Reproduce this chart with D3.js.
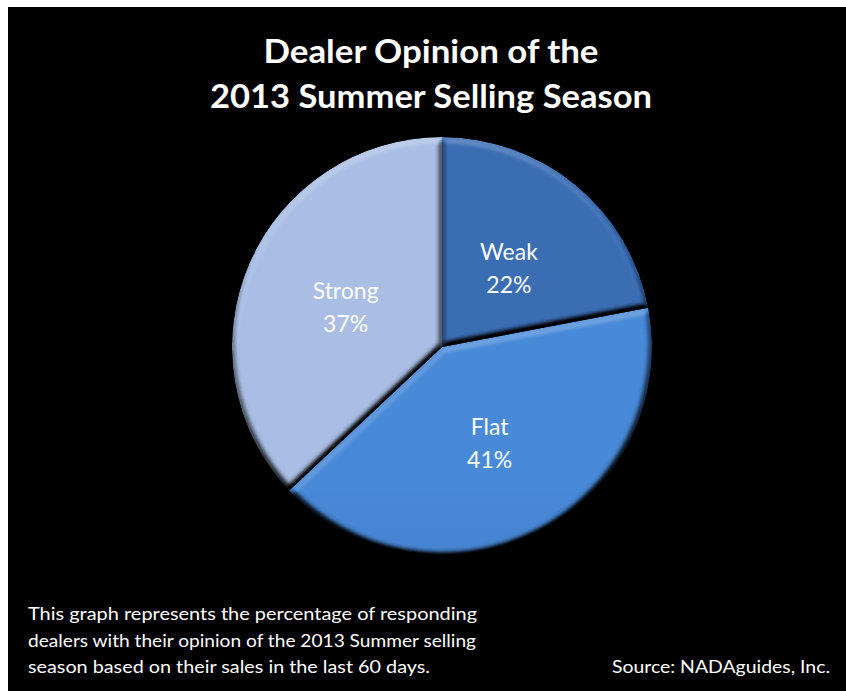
<!DOCTYPE html>
<html>
<head>
<meta charset="utf-8">
<script src="https://cdn.jsdelivr.net/npm/d3@7"></script>
<style>
  html, body { margin: 0; padding: 0; background: #ffffff; }
  svg { display: block; }
</style>
</head>
<body>
<script>
// Survey results: share of dealers per opinion
const categories = ["Weak", "Flat", "Strong"];
const shares = [22, 41, 37];

const titleLines = ["Dealer Opinion of the", "2013 Summer Selling Season"];
const noteLines = [
  "This graph represents the percentage of responding",
  "dealers with their opinion of the 2013  Summer selling",
  "season based on their sales in the last 60 days."
];
const sourceText = "Source: NADAguides, Inc.";

const W = 846, H = 691;
const cx = 442, cy = 347, R = 210;

// top / bottom gradient stops per slice
const sliceColors = {
  Weak:   ["#3a6db3", "#2d5891"],
  Flat:   ["#4889d8", "#3766a8"],
  Strong: ["#aabee5", "#7f8ba6"]
};

const svg = d3.select("body").append("svg")
  .attr("width", W).attr("height", H);

// black panel
svg.append("rect")
  .attr("x", 8).attr("y", 7)
  .attr("width", W - 8).attr("height", H - 7)
  .attr("fill", "#000");

const defs = svg.append("defs");

categories.forEach(c => {
  const g = defs.append("linearGradient")
    .attr("id", "grad-" + c)
    .attr("gradientUnits", "userSpaceOnUse")
    .attr("x1", 0).attr("y1", cy - R)
    .attr("x2", 0).attr("y2", cy + R);
  g.append("stop").attr("offset", "0%").attr("stop-color", sliceColors[c][0]);
  g.append("stop").attr("offset", "100%").attr("stop-color", sliceColors[c][1]);
});

// soft bevel: edges facing the light get a white sheen, edges facing away
// are darkened multiplicatively so the hue is kept
const elev = 50;
const sinE = Math.sin(elev * Math.PI / 180);
const az = 262;
const bevel = defs.append("filter")
  .attr("id", "bevel")
  .attr("x", "-10%").attr("y", "-10%")
  .attr("width", "120%").attr("height", "120%")
  .attr("color-interpolation-filters", "sRGB");
bevel.append("feGaussianBlur")
  .attr("in", "SourceAlpha").attr("stdDeviation", 3.2).attr("result", "blur");

// shading term: 1 on flat areas, below 1 on edges turned away
bevel.append("feDiffuseLighting")
  .attr("in", "blur").attr("surfaceScale", 6)
  .attr("diffuseConstant", 1 / sinE).attr("lighting-color", "#ffffff")
  .attr("result", "shadeLight")
  .append("feDistantLight").attr("azimuth", az).attr("elevation", elev);
bevel.append("feComposite")
  .attr("in", "SourceGraphic").attr("in2", "shadeLight")
  .attr("operator", "arithmetic")
  .attr("k1", 1).attr("k2", 0).attr("k3", 0).attr("k4", 0)
  .attr("result", "shaded");

// highlight term: white whose opacity grows on edges facing the light
bevel.append("feDiffuseLighting")
  .attr("in", "blur").attr("surfaceScale", 6)
  .attr("diffuseConstant", 0.5 / sinE).attr("lighting-color", "#ffffff")
  .attr("result", "hiLight")
  .append("feDistantLight").attr("azimuth", az).attr("elevation", elev);
bevel.append("feColorMatrix")
  .attr("in", "hiLight").attr("type", "matrix")
  .attr("values", "0 0 0 0 1  0 0 0 0 1  0 0 0 0 1  1.3 0 0 0 -0.65")
  .attr("result", "hi");
bevel.append("feComposite")
  .attr("in", "hi").attr("in2", "shaded").attr("operator", "atop")
  .attr("result", "lit");
bevel.append("feComposite")
  .attr("in", "lit").attr("in2", "SourceAlpha").attr("operator", "in");

const pie = d3.pie().sort(null).value(d => d.value)
  .startAngle(0).endAngle(2 * Math.PI);
const arcs = pie(categories.map((c, i) => ({ name: c, value: shares[i] })));

const arc = d3.arc().innerRadius(0).outerRadius(R);

const gPie = svg.append("g").attr("transform", `translate(${cx},${cy})`);

gPie.selectAll("path.slice")
  .data(arcs)
  .join("path")
  .attr("class", "slice")
  .attr("d", arc)
  .attr("fill", d => `url(#grad-${d.data.name})`)
  .attr("filter", "url(#bevel)");

// slice labels: name and percentage
const labels = gPie.selectAll("g.label")
  .data(arcs)
  .join("g")
  .attr("class", "label")
  .attr("transform", d => `translate(${arc.centroid(d)})`);

labels.append("text")
  .attr("y", -6)
  .attr("text-anchor", "middle")
  .attr("font-family", "Lato, 'Open Sans', sans-serif")
  .attr("font-size", 23)
  .attr("fill", "#ffffff")
  .text(d => d.data.name);

labels.append("text")
  .attr("y", 27)
  .attr("text-anchor", "middle")
  .attr("font-family", "Lato, 'Open Sans', sans-serif")
  .attr("font-size", 23)
  .attr("fill", "#ffffff")
  .text(d => d.data.value + "%");

// title
const titleWidths = [335, 442];
svg.selectAll("text.title")
  .data(titleLines)
  .join("text")
  .attr("class", "title")
  .attr("x", 431)
  .attr("y", (d, i) => 63 + i * 45)
  .attr("text-anchor", "middle")
  .attr("font-family", "Lato, 'Open Sans', sans-serif")
  .attr("font-weight", "bold")
  .attr("font-size", 32)
  .attr("fill", "#ffffff")
  .attr("textLength", (d, i) => titleWidths[i])
  .attr("lengthAdjust", "spacingAndGlyphs")
  .text(d => d);

// footnote
const noteWidths = [449, 448, 402];
svg.selectAll("text.note")
  .data(noteLines)
  .join("text")
  .attr("class", "note")
  .attr("x", 28)
  .attr("y", (d, i) => 620 + i * 26.5)
  .attr("font-family", "Lato, 'Open Sans', sans-serif")
  .attr("font-size", 17.5)
  .attr("fill", "#ffffff")
  .attr("textLength", (d, i) => noteWidths[i])
  .attr("lengthAdjust", "spacingAndGlyphs")
  .text(d => d);

svg.append("text")
  .attr("x", 830)
  .attr("y", 673)
  .attr("text-anchor", "end")
  .attr("font-family", "Lato, 'Open Sans', sans-serif")
  .attr("font-size", 17.5)
  .attr("fill", "#ffffff")
  .attr("textLength", 218)
  .attr("lengthAdjust", "spacingAndGlyphs")
  .text(sourceText);
</script>
</body>
</html>
